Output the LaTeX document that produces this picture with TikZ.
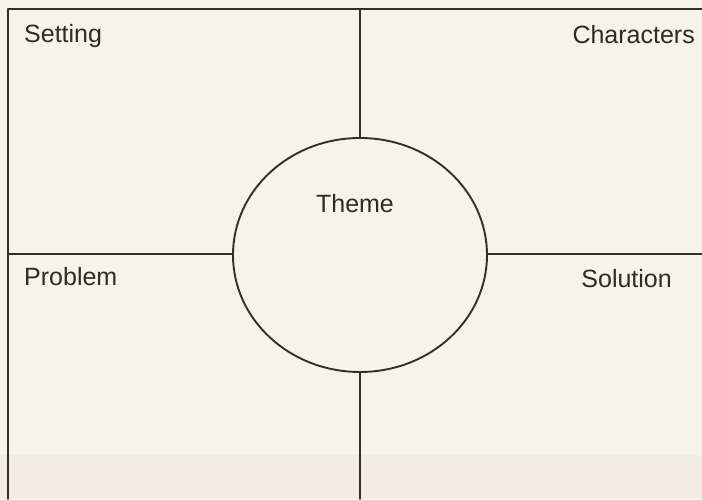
\documentclass[tikz,border=0pt]{standalone}
\usepackage{fontspec}
\setmainfont{Liberation Sans}
\usepackage{tkz-euclide}
\definecolor{PaperClr}{RGB}{246,243,233}
\definecolor{BandClr}{RGB}{242,236,226}
\definecolor{LineClr}{RGB}{50,48,45}
\definecolor{TextClr}{RGB}{45,43,40}

\tikzset{
  frameline/.style={line width=1.9pt,color=LineClr},
  boxlabel/.style={inner sep=0pt,text=TextClr,font=\fontsize{25}{30}\selectfont}
}

\begin{document}
\begin{tikzpicture}[x=1pt,y=1pt]
\fill[PaperClr] (0,0) rectangle (702,499);
\fill[BandClr] (0,0) rectangle (702,44);
\useasboundingbox (0,0) rectangle (702,499);

\tkzDefPoints{8/490/TL,702/490/TR,8/0/BL,360/490/T,360/0/B,8/245/L,702/245/R,360/244/O}

\tkzDrawSegments[frameline](TL,TR TL,BL T,B L,R)

% the theme circle covers the crossing
\draw[frameline,fill=PaperClr] (O) ellipse (127 and 117);

\node[boxlabel,anchor=base west] (setting) at (24,456) {Setting};
\node[boxlabel,anchor=base east] (characters) at (695,455) {Characters};
\node[boxlabel,anchor=base] (theme) at (355,287) {Theme};
\node[boxlabel,anchor=base west] (problem) at (24,214) {Problem};
\node[boxlabel,anchor=base east] (solution) at (672,212) {Solution};

\end{tikzpicture}
\end{document}
